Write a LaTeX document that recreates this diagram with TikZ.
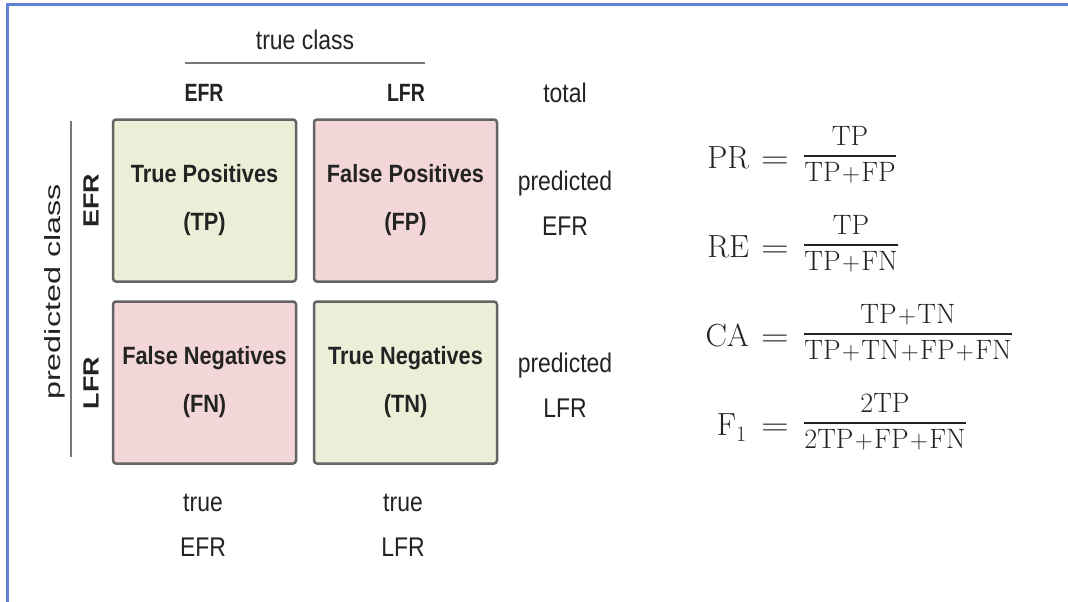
\documentclass[tikz,border=0pt]{standalone}
\usepackage{fontspec}
\usepackage{amsmath}
\usepackage{graphicx}
\newfontfamily\rfont{Liberation Sans}
\newfontfamily\rnfont[FakeStretch=0.85]{Liberation Sans}
\newfontfamily\bnfont[FakeStretch=0.87]{Liberation Sans Bold}
\newfontfamily\bhfont[FakeStretch=0.78]{Liberation Sans Bold}
\newfontfamily\bfont{Liberation Sans Bold}
\definecolor{framblue}{RGB}{95,130,210}
\definecolor{greenbox}{RGB}{234,240,215}
\definecolor{pinkbox}{RGB}{242,214,216}
\definecolor{boxedge}{RGB}{100,100,100}
\definecolor{txt}{RGB}{35,35,35}
\definecolor{rulegray}{RGB}{120,120,120}
\tikzset{
  cell/.style={draw=boxedge, line width=2.5pt, rounded corners=3pt,
    minimum width=183pt, minimum height=162pt, align=center, text=txt,
    font=\bnfont\fontsize{25}{48}\selectfont, inner sep=0pt},
  greencell/.style={cell, fill=greenbox},
  pinkcell/.style={cell, fill=pinkbox},
  lab/.style={text=txt, font=\rnfont\fontsize{27}{45}\selectfont, align=center, inner sep=0pt},
  blab/.style={text=txt, font=\bhfont\fontsize{25}{45}\selectfont, align=center, inner sep=0pt},
  rotlab/.style={text=txt, font=\rfont\fontsize{22}{26}\selectfont, inner sep=0pt, rotate=90},
  rotblab/.style={text=txt, font=\bfont\fontsize{22}{26}\selectfont, inner sep=0pt, rotate=90},
  lhs/.style={text=txt, font=\rmfamily\fontsize{32}{36}\selectfont, anchor=base east, inner sep=0pt},
  rhs/.style={text=txt, font=\fontsize{28}{30}\selectfont, anchor=base west, inner sep=0pt},
  rulestyle/.style={draw=rulegray, line width=2.5pt},
  frame/.style={draw=framblue, line width=3pt}
}
\newcommand{\myfrac}[2]{\genfrac{}{}{1.8pt}{0}{#1}{#2}}
\newcommand{\pl}{\mkern1mu{+}\mkern1mu}
\newcommand{\eqs}{\hspace{12pt}\scalebox{1.2}[1]{=}}
\begin{document}
\begin{tikzpicture}[x=1pt,y=-1pt]
\useasboundingbox (0,0) rectangle (1068,602);
\fill[white] (0,0) rectangle (1068,602);
% frame
\coordinate (fa) at (7,602);
\coordinate (fb) at (7,5);
\coordinate (fc) at (1068,5);
\draw[frame] (fa) -- (fb) -- (fc);
% header
\node[lab] (tc) at (305,40) {true class};
\coordinate (tcl) at (185,63);
\coordinate (tcr) at (425,63);
\draw[rulestyle] (tcl) -- (tcr);
\node[blab] (hE) at (204,93) {EFR};
\node[blab] (hL) at (406,93) {LFR};
\node[lab] (ht) at (565,93) {total};
% left
\node[rotlab] (pc) at (55,292) {\scalebox{1.47}[1]{predicted class}};
\coordinate (vt) at (71,121);
\coordinate (vb) at (71,457);
\draw[rulestyle, line width=2pt] (vt) -- (vb);
\node[rotblab] (vE) at (91,201) {\scalebox{1.22}[1]{EFR}};
\node[rotblab] (vL) at (91,383) {\scalebox{1.22}[1]{LFR}};
% cells
\node[greencell] (tp) at (204.5,200.5) {True Positives\\(TP)};
\node[pinkcell]  (fp) at (405.5,200.5) {False Positives\\(FP)};
\node[pinkcell]  (fn) at (204.5,382.5) {False Negatives\\(FN)};
\node[greencell] (tn) at (405.5,382.5) {True Negatives\\(TN)};
% right labels
\node[lab] (pE) at (565,203) {predicted\\EFR};
\node[lab] (pL) at (565,385) {predicted\\LFR};
% bottom labels
\node[lab] (bE) at (203,525) {true\\EFR};
\node[lab] (bL) at (403,525) {true\\LFR};
% formulas
\node[lhs] (f1l) at (789,168) {PR\eqs};
\node[rhs] (f1r) at (803,162) {$\myfrac{\mathrm{TP}}{\mathrm{TP\pl FP}}$};
\node[lhs] (f2l) at (789,257) {RE\eqs};
\node[rhs] (f2r) at (803,251) {$\myfrac{\mathrm{TP}}{\mathrm{TP\pl FN}}$};
\node[lhs] (f3l) at (789,346) {CA\eqs};
\node[rhs] (f3r) at (803,340) {$\myfrac{\mathrm{TP\pl TN}}{\mathrm{TP\pl TN\pl FP\pl FN}}$};
\node[lhs] (f4l) at (789,435) {F\raisebox{-6pt}{\fontsize{22}{22}\selectfont 1}\hspace{15pt}\scalebox{1.2}[1]{=}};
\node[rhs] (f4r) at (803,429) {$\myfrac{\mathrm{2TP}}{\mathrm{2TP\pl FP\pl FN}}$};
\end{tikzpicture}
\end{document}
